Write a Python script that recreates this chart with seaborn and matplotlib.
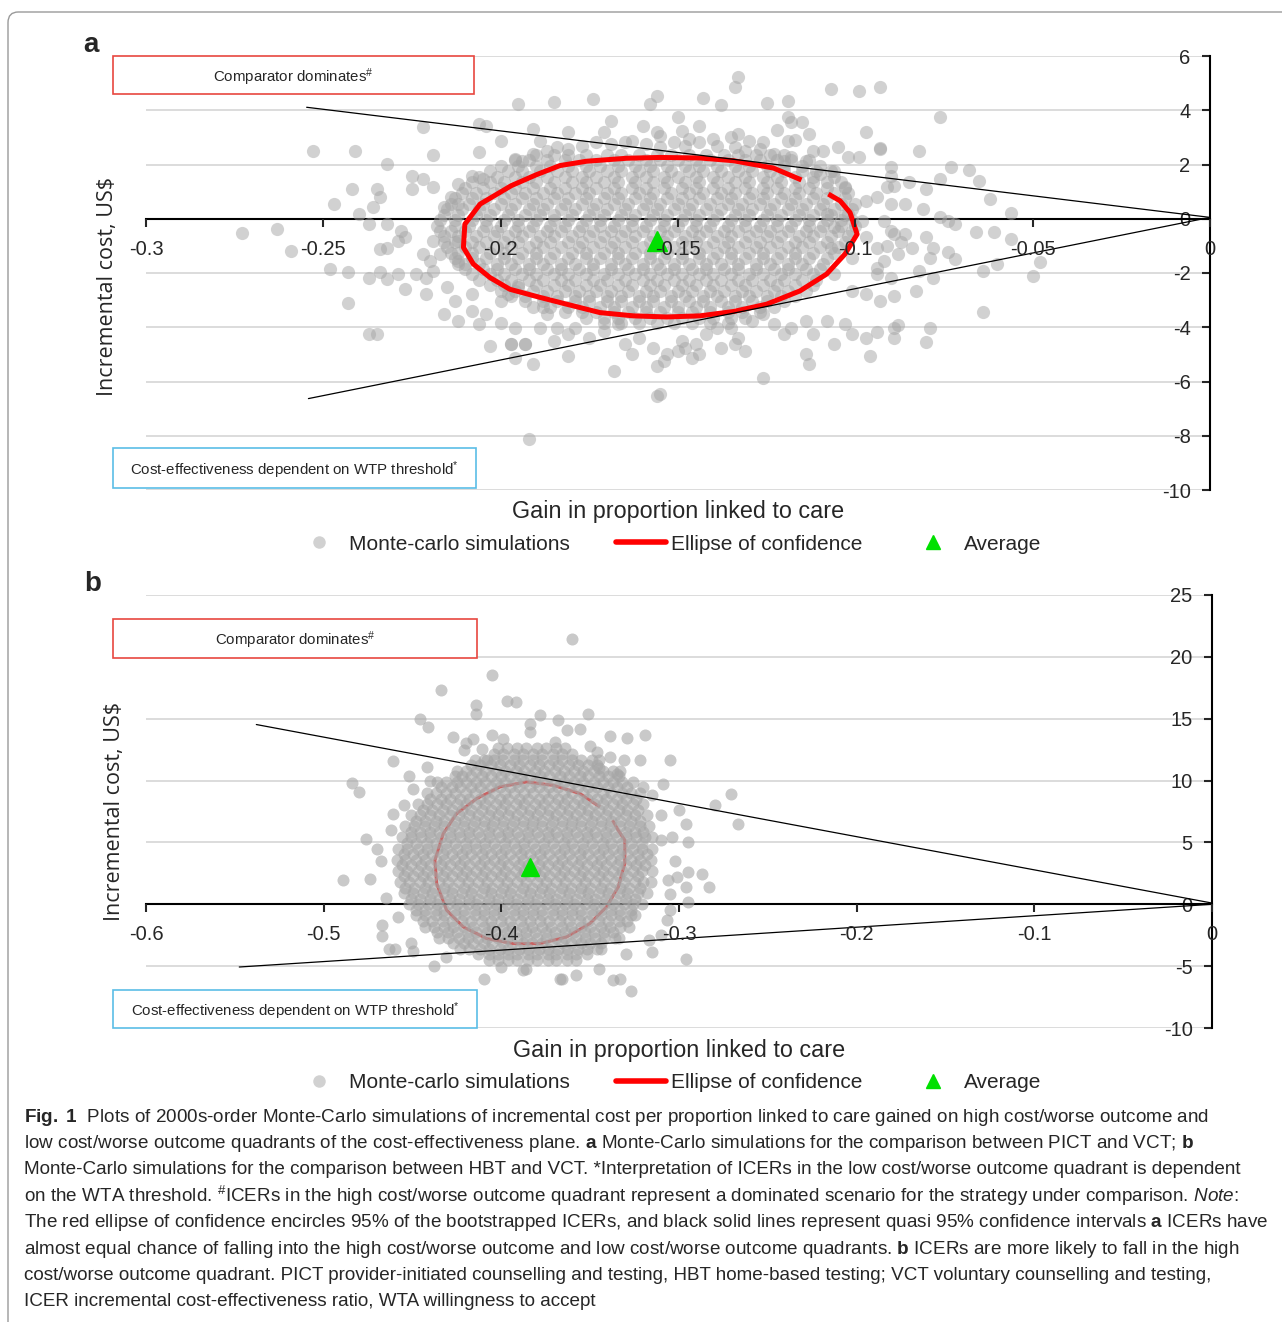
import numpy as np
import pandas as pd
import seaborn as sns
import matplotlib.pyplot as plt
from matplotlib.patches import Rectangle, FancyBboxPatch
from matplotlib.lines import Line2D

sns.set_style("white")
plt.rcParams['font.family'] = ['Liberation Sans', 'DejaVu Sans']
plt.rcParams['axes.unicode_minus'] = False
plt.rcParams['mathtext.fontset'] = 'custom'
plt.rcParams['mathtext.rm'] = 'Liberation Sans'
plt.rcParams['mathtext.bf'] = 'Liberation Sans:bold'
plt.rcParams['mathtext.it'] = 'Liberation Sans:italic'

### data, panel a (PICT vs VCT) ###
a_xticks = [-0.3, -0.25, -0.2, -0.15, -0.1, -0.05, 0]
a_yticks = [-10, -8, -6, -4, -2, 0, 2, 4, 6]

# scattered simulations (gain, cost)
a_outer = [
    (-0.195, 4.23), (-0.222, 3.39), (-0.206, 3.49), (-0.204, 3.43), (-0.200, 2.88),
    (-0.253, 2.51), (-0.241, 2.48), (-0.219, 2.36), (-0.206, 2.45), (-0.232, 2.02),
    (-0.225, 1.59), (-0.222, 1.46), (-0.219, 1.16), (-0.225, 1.09), (-0.242, 1.09),
    (-0.235, 1.09), (-0.234, 0.79), (-0.236, 0.42), (-0.247, 0.54), (-0.212, 1.28),
    (-0.208, 1.59), (-0.205, 1.46), (-0.214, 0.79), (-0.216, 0.42), (-0.212, 0.54),
    (-0.240, 0.17), (-0.237, -0.20), (-0.232, -0.20), (-0.228, -0.44), (-0.227, -0.69),
    (-0.273, -0.54), (-0.263, -0.36), (-0.259, -1.18), (-0.248, -1.86), (-0.243, -1.98),
    (-0.237, -2.17), (-0.234, -1.98), (-0.232, -2.23), (-0.229, -2.04), (-0.227, -2.60),
    (-0.224, -2.04), (-0.221, -2.17), (-0.219, -1.92), (-0.243, -3.12), (-0.237, -4.26),
    (-0.235, -4.26), (-0.222, -1.30), (-0.220, -1.55), (-0.217, -1.30), (-0.216, -3.52),
    (-0.213, -3.03), (-0.212, -3.76), (-0.208, -3.40), (-0.206, -3.89), (-0.203, -4.69),
    (-0.200, -3.83), (-0.197, -4.63), (-0.193, -4.63), (-0.196, -5.12), (-0.192, -8.13),
    (-0.234, -1.12), (-0.232, -1.06), (-0.229, -0.81), (-0.219, -0.81), (-0.212, -0.81),
    (-0.215, -2.53), (-0.221, -2.78), (-0.212, -1.55), (-0.208, -2.78), (-0.204, -3.52),
    (-0.200, -3.03), (-0.196, -4.01),
    (-0.133, 5.21), (-0.134, 4.85), (-0.107, 4.78), (-0.099, 4.72), (-0.093, 4.87),
    (-0.156, 4.54), (-0.143, 4.45), (-0.174, 4.42), (-0.185, 4.32), (-0.158, 4.23),
    (-0.138, 4.21), (-0.125, 4.27), (-0.119, 4.35), (-0.169, 3.62), (-0.150, 3.76),
    (-0.144, 3.43), (-0.119, 3.74), (-0.118, 3.55), (-0.115, 3.58), (-0.122, 3.27),
    (-0.113, 3.12), (-0.097, 3.19), (-0.160, 3.41), (-0.171, 3.19), (-0.181, 3.19),
    (-0.191, 3.31), (-0.189, 2.88), (-0.156, 3.19), (-0.155, 3.06), (-0.149, 3.25),
    (-0.147, 2.94), (-0.140, 2.94), (-0.135, 3.00), (-0.133, 3.12), (-0.130, 2.88),
    (-0.126, 2.84), (-0.119, 2.88), (-0.117, 2.91), (-0.112, 2.51), (-0.109, 2.51),
    (-0.105, 2.63), (-0.102, 2.26), (-0.099, 2.26), (-0.093, 2.61), (-0.090, 1.89),
    (-0.091, 1.16), (-0.094, 0.79), (-0.090, 0.54), (-0.097, 0.66), (-0.103, 1.16),
    (-0.106, 1.77), (-0.110, 1.65), (-0.114, 2.14), (-0.118, 2.26),
    (-0.196, 2.20), (-0.194, 2.14), (-0.191, 2.39), (-0.187, 2.51), (-0.184, 2.63),
    (-0.181, 2.57), (-0.177, 2.69), (-0.173, 2.82), (-0.169, 2.75), (-0.165, 2.82),
    (-0.163, 2.88), (-0.159, 2.75), (-0.155, 2.63), (-0.151, 2.82), (-0.148, 2.69),
    (-0.144, 2.82), (-0.139, 2.69), (-0.134, 2.63), (-0.131, 2.51), (-0.127, 2.57),
    (-0.123, 2.39), (-0.120, 2.14),
    (-0.198, -2.78), (-0.195, -2.53), (-0.191, -3.27), (-0.187, -3.52), (-0.184, -4.01),
    (-0.181, -4.26), (-0.179, -4.01), (-0.175, -4.38), (-0.171, -4.13), (-0.167, -3.89),
    (-0.165, -4.63), (-0.161, -4.38), (-0.157, -4.75), (-0.156, -5.42), (-0.153, -4.99),
    (-0.150, -4.87), (-0.148, -4.75), (-0.145, -4.63), (-0.142, -4.26), (-0.139, -4.01),
    (-0.135, -4.01), (-0.133, -4.38), (-0.129, -3.76), (-0.126, -3.52), (-0.123, -3.89),
    (-0.120, -4.26), (-0.118, -4.01), (-0.114, -3.76), (-0.112, -4.26), (-0.108, -3.76),
    (-0.106, -4.63), (-0.103, -3.89), (-0.101, -4.26), (-0.097, -4.38), (-0.094, -4.19),
    (-0.089, -4.01), (-0.096, -5.06), (-0.113, -5.36), (-0.114, -5.00), (-0.126, -5.86),
    (-0.131, -4.87), (-0.138, -4.75), (-0.146, -5.12), (-0.149, -4.50), (-0.156, -6.53),
    (-0.168, -5.61), (-0.181, -5.06), (-0.191, -5.36), (-0.197, -4.63), (-0.193, -4.63),
    (-0.189, -4.01), (-0.185, -4.50), (-0.163, -5.00), (-0.154, -5.24), (-0.144, -5.00),
    (-0.134, -4.63), (-0.155, -6.45),
    (-0.101, -2.66), (-0.097, -2.78), (-0.094, -2.04), (-0.090, -2.17), (-0.092, -1.55),
    (-0.094, -1.06), (-0.106, -2.04), (-0.107, -1.06), (-0.101, -1.43), (-0.106, -0.32),
    (-0.097, -0.69), (-0.092, -0.07), (-0.089, -0.57), (-0.102, 0.17), (-0.108, 0.17),
    (-0.098, -0.07),
    (-0.076, 3.74), (-0.082, 2.48), (-0.073, 1.92), (-0.068, 1.81), (-0.065, 1.40),
    (-0.062, 0.73), (-0.056, 0.23), (-0.076, 1.46), (-0.080, 1.09), (-0.086, 0.54),
    (-0.085, 1.34), (-0.090, 1.59), (-0.089, 1.22), (-0.081, 0.36), (-0.074, -0.07),
    (-0.072, -0.20), (-0.076, 0.05), (-0.066, -0.50), (-0.061, -0.50), (-0.056, -0.75),
    (-0.060, -1.67), (-0.064, -1.92), (-0.048, -1.61), (-0.050, -2.10), (-0.090, -0.44),
    (-0.087, -0.87), (-0.091, -0.99), (-0.088, -1.30), (-0.086, -0.57), (-0.084, -1.06),
    (-0.080, -0.69), (-0.078, -1.06), (-0.079, -1.43), (-0.074, -1.24), (-0.072, -1.49),
    (-0.082, -1.92), (-0.078, -2.17), (-0.083, -2.66), (-0.089, -2.84), (-0.088, -3.92),
    (-0.079, -4.01), (-0.080, -4.54), (-0.089, -4.38), (-0.064, -3.43), (-0.093, 2.57),
    (-0.093, -3.03), (-0.094, -1.80),
]

# dense core: one row of gains (in thousandths) per cost level
a_core_y = [2.35, 2.15, 1.95, 1.75, 1.55, 1.35, 1.15, 0.95, 0.75, 0.55, 0.35, 0.15,
            -0.05, -0.25, -0.45, -0.65, -0.85, -1.05, -1.25, -1.45, -1.65, -1.85,
            -2.05, -2.25, -2.45, -2.65, -2.85, -3.05, -3.25, -3.45, -3.65, -3.85]
a_core_x_milli = [
    [-190, -185, -181, -176, -170, -166, -161, -156, -152, -147, -142, -137, -133, -128, -124, -120],
    [-196, -192, -187, -182, -178, -173, -168, -164, -159, -155, -150, -145, -141, -136, -131, -127, -122, -118, -113],
    [-200, -195, -190, -186, -181, -176, -172, -167, -162, -158, -153, -148, -144, -139, -134, -130, -125, -120, -115, -110],
    [-203, -198, -194, -189, -184, -180, -175, -170, -166, -161, -157, -152, -147, -143, -138, -133, -129, -124, -120, -115, -111, -107],
    [-206, -201, -196, -192, -187, -182, -177, -173, -168, -163, -159, -154, -150, -145, -140, -136, -131, -126, -122, -117, -112, -106],
    [-208, -203, -199, -194, -190, -185, -180, -176, -171, -167, -162, -157, -153, -148, -144, -139, -134, -130, -125, -121, -116, -112, -108, -104],
    [-210, -205, -200, -196, -191, -186, -182, -177, -173, -168, -163, -159, -154, -149, -145, -140, -136, -131, -126, -122, -117, -113, -108, -103],
    [-211, -207, -202, -197, -193, -188, -184, -179, -175, -170, -166, -161, -157, -152, -147, -143, -138, -134, -129, -125, -120, -116, -111, -106, -102],
    [-213, -208, -204, -199, -194, -190, -185, -181, -176, -171, -167, -162, -158, -153, -149, -144, -139, -135, -130, -126, -121, -117, -112, -108, -103],
    [-214, -209, -205, -200, -196, -191, -187, -182, -177, -173, -168, -164, -159, -155, -150, -146, -141, -136, -132, -127, -123, -118, -114, -109, -104, -100],
    [-215, -211, -206, -202, -197, -192, -188, -183, -179, -174, -170, -165, -160, -156, -151, -147, -142, -138, -133, -129, -124, -119, -115, -110, -106, -101],
    [-216, -212, -207, -203, -198, -193, -189, -185, -180, -175, -171, -166, -162, -157, -153, -148, -144, -139, -134, -130, -125, -121, -116, -112, -107, -103],
    [-217, -213, -208, -204, -199, -195, -190, -185, -181, -176, -172, -167, -163, -158, -154, -149, -145, -140, -135, -131, -126, -122, -117, -113, -108, -104, -101],
    [-218, -213, -209, -204, -200, -195, -191, -186, -182, -177, -172, -168, -163, -159, -154, -150, -145, -141, -136, -131, -127, -122, -118, -113, -109, -104, -100],
    [-217, -214, -210, -205, -201, -196, -192, -187, -183, -178, -174, -169, -165, -160, -155, -151, -146, -142, -137, -133, -128, -124, -119, -114, -110, -105, -101],
    [-216, -212, -207, -202, -198, -194, -189, -185, -180, -175, -171, -166, -162, -157, -153, -148, -144, -139, -135, -130, -125, -121, -116, -112, -107, -102],
    [-216, -213, -208, -204, -199, -195, -190, -186, -181, -177, -172, -168, -163, -158, -154, -149, -145, -140, -136, -131, -127, -122, -117, -113, -108, -103],
    [-215, -210, -206, -201, -197, -192, -188, -183, -178, -174, -169, -165, -160, -156, -151, -147, -142, -137, -133, -128, -124, -119, -115, -110, -105],
    [-214, -212, -208, -203, -199, -194, -190, -185, -180, -176, -171, -167, -162, -158, -153, -149, -144, -139, -135, -130, -126, -121, -117, -112, -106],
    [-213, -208, -204, -199, -195, -190, -186, -181, -176, -172, -167, -163, -158, -154, -149, -144, -140, -135, -131, -126, -122, -117, -113, -108],
    [-212, -210, -206, -201, -197, -192, -188, -183, -179, -174, -169, -165, -160, -156, -151, -147, -142, -138, -133, -128, -124, -119, -115, -109],
    [-210, -205, -201, -196, -192, -187, -183, -178, -174, -169, -164, -160, -155, -151, -146, -142, -137, -133, -128, -123, -119, -114, -110],
    [-208, -203, -199, -194, -190, -185, -181, -176, -171, -167, -162, -158, -153, -149, -144, -140, -135, -130, -126, -121, -117, -112],
    [-206, -201, -197, -192, -188, -183, -179, -174, -170, -165, -160, -156, -151, -147, -142, -138, -133, -129, -124, -120, -115, -111],
    [-203, -199, -195, -190, -185, -181, -176, -172, -167, -163, -158, -154, -149, -145, -140, -135, -131, -126, -122, -117, -112],
    [-200, -196, -191, -187, -182, -178, -173, -169, -164, -159, -155, -150, -146, -141, -137, -132, -128, -123, -119, -114],
    [-197, -193, -188, -184, -179, -175, -170, -166, -161, -157, -152, -148, -143, -139, -134, -130, -125, -121, -117],
    [-193, -188, -184, -179, -175, -170, -166, -161, -157, -152, -147, -143, -138, -134, -129, -125, -120],
    [-188, -186, -181, -177, -172, -168, -163, -159, -154, -150, -145, -141, -136, -132, -127, -123],
    [-182, -177, -173, -168, -164, -159, -155, -150, -146, -141, -136, -132, -127],
    [-176, -171, -167, -162, -158, -153, -149, -144, -140, -135, -131],
    [-171, -166, -161, -156, -151, -146, -141, -136],
]

# confidence ellipse (open polygon, gap at upper right)
a_ell_x = [-0.1152, -0.1231, -0.1344, -0.1438, -0.1551, -0.1645, -0.1758, -0.1833,
           -0.1900, -0.1970, -0.2058, -0.2101, -0.2105, -0.2077, -0.2030, -0.1974,
           -0.1889, -0.1814, -0.1720, -0.1626, -0.1532, -0.1438, -0.1344, -0.1250,
           -0.1156, -0.1081, -0.1029, -0.0995, -0.1015, -0.1043, -0.1076]
a_ell_y = [1.43, 1.87, 2.14, 2.24, 2.26, 2.23, 2.12, 1.96, 1.62, 1.22, 0.54, -0.20,
           -1.06, -1.67, -2.17, -2.60, -2.90, -3.15, -3.46, -3.58, -3.62, -3.58,
           -3.42, -3.15, -2.66, -2.04, -1.30, -0.57, 0.23, 0.66, 0.91]
a_avg = (-0.156, -0.81)
a_ci_upper = ([-0.2547, 0.0], [4.11, 0.05])
a_ci_lower = ([-0.2542, 0.0], [-6.63, 0.05])

### data, panel b (HBT vs VCT) ###
b_xticks = [-0.6, -0.5, -0.4, -0.3, -0.2, -0.1, 0]
b_yticks = [-10, -5, 0, 5, 10, 15, 20, 25]

b_outer = [
    (-0.360, 21.48), (-0.405, 18.51), (-0.434, 17.30), (-0.414, 16.09), (-0.397, 16.44),
    (-0.392, 16.36), (-0.414, 15.41), (-0.446, 15.01), (-0.441, 14.34), (-0.378, 15.28),
    (-0.368, 14.88), (-0.351, 15.41), (-0.384, 14.61), (-0.427, 13.53), (-0.416, 13.39),
    (-0.405, 13.66), (-0.399, 13.39), (-0.384, 13.93), (-0.363, 14.07), (-0.356, 14.20),
    (-0.339, 13.58), (-0.329, 13.47), (-0.319, 13.72), (-0.461, 11.59), (-0.484, 9.84),
    (-0.480, 9.08), (-0.452, 10.35), (-0.442, 11.10), (-0.421, 12.51), (-0.411, 12.59),
    (-0.408, 11.64), (-0.305, 11.64), (-0.309, 9.76), (-0.271, 8.89), (-0.280, 8.00),
    (-0.300, 7.60), (-0.296, 6.52), (-0.267, 6.52), (-0.322, 11.64), (-0.331, 11.64),
    (-0.339, 11.91), (-0.346, 12.32), (-0.315, 8.81), (-0.320, 9.49), (-0.476, 5.31),
    (-0.470, 4.50), (-0.461, 7.33), (-0.489, 1.99), (-0.474, 2.08), (-0.283, 1.40),
    (-0.287, 2.48), (-0.295, 2.61), (-0.296, 1.40), (-0.295, 0.19), (-0.301, 2.21),
    (-0.306, 1.94), (-0.295, 5.04), (-0.304, 5.44), (-0.310, 5.18), (-0.467, -1.70),
    (-0.467, -2.59), (-0.463, -3.58), (-0.451, -3.12), (-0.431, -4.26), (-0.400, -5.06),
    (-0.388, -5.28), (-0.367, -6.01), (-0.358, -5.74), (-0.337, -6.14), (-0.327, -7.00),
    (-0.296, -4.39), (-0.315, -3.85), (-0.317, -2.91), (-0.305, -0.48), (-0.307, -1.29),
    (-0.455, 8.00), (-0.462, 6.00), (-0.468, 3.50), (-0.465, 0.50), (-0.458, -1.00),
    (-0.450, -3.80), (-0.420, 13.00), (-0.370, 13.10), (-0.350, 12.80), (-0.438, -5.00),
    (-0.410, -6.00), (-0.345, -5.20), (-0.330, -4.00), (-0.310, -2.50), (-0.305, 0.80),
    (-0.302, 3.50), (-0.310, 7.20), (-0.335, 10.50), (-0.345, 11.00), (-0.440, 10.00),
    (-0.450, 9.30), (-0.333, -6.00), (-0.366, -6.00), (-0.386, -5.20), (-0.460, -3.60),
]

b_core_y = [12.6, 12.15, 11.7, 11.25, 10.8, 10.35, 9.9, 9.45, 9.0, 8.55, 8.1, 7.65,
            7.2, 6.75, 6.3, 5.85, 5.4, 4.95, 4.5, 4.05, 3.6, 3.15, 2.7, 2.25, 1.8,
            1.35, 0.9, 0.45, 0.0, -0.45, -0.9, -1.35, -1.8, -2.25, -2.7, -3.15,
            -3.6, -4.05, -4.5]
b_core_x_milli = [
    [-402, -397, -391, -386, -380, -375, -369, -364],
    [-404, -399, -393, -388, -382, -377, -371, -366, -360],
    [-415, -410, -404, -399, -393, -388, -382, -377, -371, -366, -360, -355, -349, -345],
    [-417, -412, -406, -401, -395, -390, -384, -379, -373, -368, -362, -357, -351, -346],
    [-425, -420, -414, -409, -403, -398, -392, -387, -381, -376, -370, -365, -359, -354, -348, -343, -337, -333],
    [-426, -422, -417, -411, -406, -400, -395, -389, -384, -378, -373, -367, -362, -356, -351, -345, -340, -334],
    [-436, -431, -425, -420, -414, -409, -403, -398, -392, -387, -381, -376, -370, -365, -359, -354, -348, -343, -337, -332, -326],
    [-434, -428, -423, -417, -412, -406, -401, -395, -390, -384, -379, -373, -368, -362, -357, -351, -346, -340, -335, -329],
    [-442, -437, -431, -426, -420, -415, -409, -404, -398, -393, -387, -382, -376, -371, -365, -360, -354, -349, -343, -338, -332, -327, -322],
    [-440, -434, -429, -423, -418, -412, -407, -401, -396, -390, -385, -379, -374, -368, -363, -357, -352, -346, -341, -335, -330, -324],
    [-447, -442, -436, -431, -425, -420, -414, -409, -403, -398, -392, -387, -381, -376, -370, -365, -359, -354, -348, -343, -337, -332, -326, -320],
    [-444, -439, -433, -428, -422, -417, -411, -406, -400, -395, -389, -384, -378, -373, -367, -362, -356, -351, -345, -340, -334, -329, -323],
    [-451, -446, -440, -435, -429, -424, -418, -413, -407, -402, -396, -391, -385, -380, -374, -369, -363, -358, -352, -347, -341, -336, -330, -325, -318],
    [-448, -443, -437, -432, -426, -421, -415, -410, -404, -399, -393, -388, -382, -377, -371, -366, -360, -355, -349, -344, -338, -333, -327, -322],
    [-454, -449, -443, -438, -432, -427, -421, -416, -410, -405, -399, -394, -388, -383, -377, -372, -366, -361, -355, -350, -344, -339, -333, -328, -322, -317],
    [-451, -446, -440, -435, -429, -424, -418, -413, -407, -402, -396, -391, -385, -380, -374, -369, -363, -358, -352, -347, -341, -336, -330, -325, -320],
    [-456, -451, -445, -440, -434, -429, -423, -418, -412, -407, -401, -396, -390, -385, -379, -374, -368, -363, -357, -352, -346, -341, -335, -330, -324, -319, -315],
    [-453, -448, -442, -437, -431, -426, -420, -415, -409, -404, -398, -393, -387, -382, -376, -371, -365, -360, -354, -349, -343, -338, -332, -327, -321],
    [-458, -453, -447, -442, -436, -431, -425, -420, -414, -409, -403, -398, -392, -387, -381, -376, -370, -365, -359, -354, -348, -343, -337, -332, -326, -321, -315],
    [-455, -450, -444, -439, -433, -428, -422, -417, -411, -406, -400, -395, -389, -384, -378, -373, -367, -362, -356, -351, -345, -340, -334, -329, -323, -318],
    [-459, -454, -448, -443, -437, -432, -426, -421, -415, -410, -404, -399, -393, -388, -382, -377, -371, -366, -360, -355, -349, -344, -338, -333, -327, -322, -316],
    [-456, -451, -445, -440, -434, -429, -423, -418, -412, -407, -401, -396, -390, -385, -379, -374, -368, -363, -357, -352, -346, -341, -335, -330, -324, -319],
    [-458, -453, -447, -442, -436, -431, -425, -420, -414, -409, -403, -398, -392, -387, -381, -376, -370, -365, -359, -354, -348, -343, -337, -332, -326, -321, -315],
    [-455, -450, -444, -439, -433, -428, -422, -417, -411, -406, -400, -395, -389, -384, -378, -373, -367, -362, -356, -351, -345, -340, -334, -329, -323],
    [-457, -452, -446, -441, -435, -430, -424, -419, -413, -408, -402, -397, -391, -386, -380, -375, -369, -364, -358, -353, -347, -342, -336, -331, -325, -320, -316],
    [-454, -449, -443, -438, -432, -427, -421, -416, -410, -405, -399, -394, -388, -383, -377, -372, -366, -361, -355, -350, -344, -339, -333, -328, -322],
    [-455, -450, -444, -439, -433, -428, -422, -417, -411, -406, -400, -395, -389, -384, -378, -373, -367, -362, -356, -351, -345, -340, -334, -329, -323, -318],
    [-451, -446, -440, -435, -429, -424, -418, -413, -407, -402, -396, -391, -385, -380, -374, -369, -363, -358, -352, -347, -341, -336, -330, -325],
    [-452, -447, -441, -436, -430, -425, -419, -414, -408, -403, -397, -392, -386, -381, -375, -370, -364, -359, -353, -348, -342, -337, -331, -326, -321],
    [-448, -443, -437, -432, -426, -421, -415, -410, -404, -399, -393, -388, -382, -377, -371, -366, -360, -355, -349, -344, -338, -333, -327],
    [-448, -443, -437, -432, -426, -421, -415, -410, -404, -399, -393, -388, -382, -377, -371, -366, -360, -355, -349, -344, -338, -333, -327, -325],
    [-444, -439, -433, -428, -422, -417, -411, -406, -400, -395, -389, -384, -378, -373, -367, -362, -356, -351, -345, -340, -334, -329],
    [-443, -438, -432, -427, -421, -416, -410, -405, -399, -394, -388, -383, -377, -372, -366, -361, -355, -350, -344, -339, -333, -328],
    [-436, -430, -425, -419, -414, -408, -403, -397, -392, -386, -381, -375, -370, -364, -359, -353, -348, -342, -337],
    [-435, -430, -424, -419, -413, -408, -402, -397, -391, -386, -380, -375, -369, -364, -358, -353, -347, -342, -336, -334],
    [-427, -421, -416, -410, -405, -399, -394, -388, -383, -377, -372, -366, -361, -355, -350, -344],
    [-423, -418, -412, -407, -401, -396, -390, -385, -379, -374, -368, -363, -357, -352, -346, -344],
    [-413, -407, -402, -396, -391, -385, -380, -374, -369, -363, -358, -352],
    [-407, -402, -396, -391, -385, -380, -374, -369, -363, -358],
]

b_ell_x = [-0.3445, -0.3558, -0.3708, -0.3858, -0.4008, -0.4139, -0.4252, -0.4327,
           -0.4374, -0.4364, -0.4308, -0.4214, -0.4083, -0.3933, -0.3783, -0.3633,
           -0.3502, -0.3408, -0.3342, -0.3305, -0.3305, -0.3342, -0.3374]
b_ell_y = [7.87, 8.95, 9.62, 9.89, 9.49, 8.54, 7.33, 5.71, 3.56, 1.67, -0.48, -1.83,
           -2.77, -3.18, -3.18, -2.64, -1.56, -0.21, 1.40, 3.29, 5.18, 5.98, 6.79]
b_avg = (-0.384, 3.02)
b_ci_upper = ([-0.5379, 0.0], [14.53, 0.1])
b_ci_lower = ([-0.5475, 0.0], [-5.07, 0.0])

legend_labels = ['Monte-carlo simulations', 'Ellipse of confidence', 'Average']

caption_lines = [
    r'$\mathbf{Fig.\ 1}$  Plots of 2000s-order Monte-Carlo simulations of incremental cost per proportion linked to care gained on high cost/worse outcome and',
    r'low cost/worse outcome quadrants of the cost-effectiveness plane. $\mathbf{a}$ Monte-Carlo simulations for the comparison between PICT and VCT; $\mathbf{b}$',
    r'Monte-Carlo simulations for the comparison between HBT and VCT. *Interpretation of ICERs in the low cost/worse outcome quadrant is dependent',
    r'on the WTA threshold. $^{\#}$ICERs in the high cost/worse outcome quadrant represent a dominated scenario for the strategy under comparison. $\mathit{Note}$:',
    r'The red ellipse of confidence encircles 95% of the bootstrapped ICERs, and black solid lines represent quasi 95% confidence intervals $\mathbf{a}$ ICERs have',
    r'almost equal chance of falling into the high cost/worse outcome and low cost/worse outcome quadrants. $\mathbf{b}$ ICERs are more likely to fall in the high',
    r'cost/worse outcome quadrant. PICT provider-initiated counselling and testing, HBT home-based testing; VCT voluntary counselling and testing,',
    r'ICER incremental cost-effectiveness ratio, WTA willingness to accept',
]

SIM_COLOR = '#a5a5a5'
W, H = 1282, 1322


def sims_frame(outer, core_y, core_x_milli):
    xs = [p[0] for p in outer]
    ys = [p[1] for p in outer]
    for yv, row in zip(core_y, core_x_milli):
        xs += [v / 1000 for v in row]
        ys += [yv] * len(row)
    return pd.DataFrame({'gain': xs, 'cost': ys})


def draw_panel(ax, df, ell_x, ell_y, avg, ci_up, ci_lo, xticks, yticks,
               dot_size, dot_alpha, tri_size, ell_lw, ell_on_top,
               ylab_x, ylab_y, xlab_y):
    sns.scatterplot(data=df, x='gain', y='cost', color=SIM_COLOR, alpha=dot_alpha,
                    s=dot_size, linewidth=0, ax=ax, zorder=3, legend=False)
    ax.plot(ell_x, ell_y, color='red', lw=ell_lw, solid_capstyle='butt',
            zorder=4 if ell_on_top else 2)
    ax.plot(ci_up[0], ci_up[1], color='black', lw=0.9, zorder=5)
    ax.plot(ci_lo[0], ci_lo[1], color='black', lw=0.9, zorder=5)
    ax.plot([avg[0]], [avg[1]], marker='^', color='#00e000', ms=tri_size, ls='',
            zorder=6)

    ax.set_xlim(xticks[0], xticks[-1])
    ax.set_ylim(yticks[0], yticks[-1])
    ax.set_xticks(xticks)
    ax.set_xticklabels([f'{t:g}' for t in xticks])
    ax.set_yticks(yticks)
    ax.set_yticklabels([f'{t:g}' for t in yticks])
    ax.yaxis.grid(True, color='#d9d9d9', lw=1.3)
    ax.xaxis.grid(False)
    ax.set_axisbelow(True)
    # tick labels sit above the cloud, the axis line itself below it
    ax.xaxis.set_zorder(7)

    for s in ['top', 'right']:
        ax.spines[s].set_visible(False)
    ax.spines['left'].set_position(('data', 0))
    ax.spines['bottom'].set_position(('data', 0))
    for s in ['left', 'bottom']:
        ax.spines[s].set_color('black')
        ax.spines[s].set_linewidth(1.5)
        ax.spines[s].set_zorder(2.5)
    ax.tick_params(axis='x', direction='out', length=6, width=1.5, pad=9,
                   labelsize=14.5, bottom=True)
    ax.tick_params(axis='y', direction='out', length=6, width=1.5, pad=8,
                   labelsize=14.5, left=True)

    ax.set_xlabel('Gain in proportion linked to care', fontsize=16.8)
    ax.xaxis.set_label_coords(0.5, xlab_y)
    ax.set_ylabel(r'Incremental cost, US\$', fontsize=15.5, family='Open Sans')
    ax.yaxis.set_label_coords(ylab_x, ylab_y)


fig = plt.figure(figsize=(W / 100, H / 100), dpi=100)

ax_a = fig.add_axes([146 / W, 1 - 490 / H, 1064 / W, 434 / H])
ax_b = fig.add_axes([146 / W, 1 - 1028 / H, 1066 / W, 433 / H])

df_a = sims_frame(a_outer, a_core_y, a_core_x_milli)
df_b = sims_frame(b_outer, b_core_y, b_core_x_milli)

draw_panel(ax_a, df_a, a_ell_x, a_ell_y, a_avg, a_ci_upper, a_ci_lower,
           a_xticks, a_yticks, 90, 0.5, 14, 3.6, True, -0.026, 0.47, -0.022)
draw_panel(ax_b, df_b, b_ell_x, b_ell_y, b_avg, b_ci_upper, b_ci_lower,
           b_xticks, b_yticks, 75, 0.6, 12.5, 2.2, False, -0.020, 0.50, -0.025)

# legends under each panel
handles = [
    Line2D([], [], marker='o', ls='', color=SIM_COLOR, alpha=0.5, ms=9, mew=0),
    Line2D([], [], color='red', lw=4),
    Line2D([], [], marker='^', ls='', color='#00e000', ms=10),
]
for yc in [544, 1083]:
    fig.legend(handles, legend_labels, loc='center', ncol=3, frameon=False,
               bbox_to_anchor=(667.5 / W, 1 - yc / H), fontsize=15,
               handlelength=2.4, handletextpad=0.25, columnspacing=2.2)

# annotation boxes
boxes = [
    (56, 94, 361, '#e8473f', r'Comparator dominates$^{\#}$'),
    (448, 488, 363, '#5bbde6', r'Cost-effectiveness dependent on WTP threshold$^{*}$'),
    (619, 658, 364, '#e8473f', r'Comparator dominates$^{\#}$'),
    (990, 1028, 364, '#5bbde6', r'Cost-effectiveness dependent on WTP threshold$^{*}$'),
]
for top, bot, wd, ec, txt in boxes:
    fig.add_artist(Rectangle((113 / W, 1 - bot / H), wd / W, (bot - top) / H,
                             transform=fig.transFigure, fill=True, fc='white',
                             ec=ec, lw=1.2, zorder=10))
    fig.text((113 + wd / 2) / W, 1 - ((top + bot) / 2 + 2) / H, txt, ha='center',
             va='center', fontsize=10.8, zorder=11)

# panel letters
fig.text(91 / W, 1 - 45 / H, 'a', fontsize=20, weight='bold', ha='center', va='center')
fig.text(93 / W, 1 - 584 / H, 'b', fontsize=20, weight='bold', ha='center', va='center')

# caption
for i, line in enumerate(caption_lines):
    yc = 1117 + i * 26.4
    fig.text(24 / W, 1 - yc / H, line, ha='left', va='center', fontsize=13.55)

# outer frame of the figure block
fig.add_artist(FancyBboxPatch((8 / W, -0.05), 1.1, 1 - 12 / H + 0.05,
                              boxstyle='round,pad=0,rounding_size=0.008',
                              transform=fig.transFigure, fill=False,
                              ec='#9a9a9a', lw=1))

fig.savefig('out.png', dpi=100)
